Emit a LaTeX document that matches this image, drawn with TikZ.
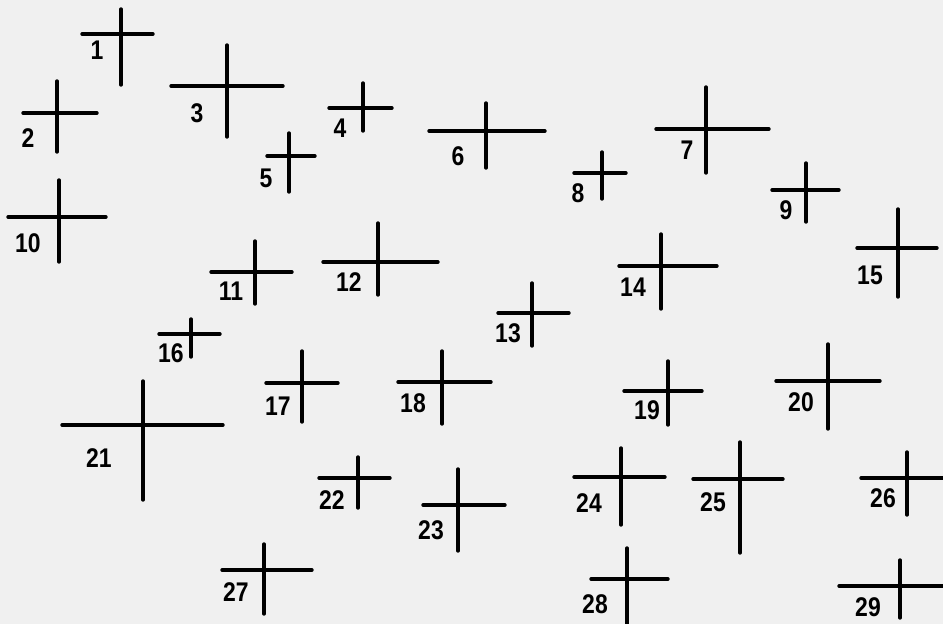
\documentclass[tikz,border=0pt]{standalone}
\usepackage{fontspec}
\setmainfont{Liberation Sans}
\definecolor{paper}{RGB}{240,240,240}
\tikzset{
  bar/.style={line width=3.4pt, line cap=round, black},
  num/.style={font=\bfseries\fontsize{27}{27}\selectfont, inner sep=0pt, black}
}
% #1 name, #2 vx, #3 vtop, #4 vbot, #5 hy, #6 hleft, #7 hright, #8 lx, #9 ly, label
\newcommand{\drawcross}[9]{%
  \draw[bar] (#2,#3) -- (#2,#4);
  \draw[bar] (#6,#5) -- (#7,#5);
  \node[num] (#1) at (#8,#9) {\scalebox{0.85}[1]{#1}};
}
\begin{document}
\begin{tikzpicture}[x=1pt,y=-1pt]
\fill[paper] (0,0) rectangle (943,624);
\useasboundingbox (0,0) rectangle (943,624);
\drawcross{1}{121}{9}{85}{34}{82}{153}{97}{50}
\drawcross{2}{57}{81}{152}{113}{23}{97}{28}{138}
\drawcross{3}{227}{45}{137}{86}{171}{283}{197}{113}
\drawcross{4}{363}{83}{131}{108}{329}{392}{340}{128}
\drawcross{5}{289}{133}{192}{156}{267}{315}{266}{178}
\drawcross{6}{486}{103}{168}{131}{429}{545}{458}{156}
\drawcross{7}{706}{87}{173}{129}{656}{769}{687}{150}
\drawcross{8}{602}{152}{199}{173}{574}{626}{578}{193}
\drawcross{9}{806}{163}{222}{190}{772}{839}{786}{210}
\drawcross{10}{59}{180}{262}{217}{8}{106}{28}{243}
\drawcross{11}{255}{241}{304}{272}{211}{292}{231}{291}
\drawcross{12}{378}{223}{295}{262}{323}{438}{349}{282}
\drawcross{13}{532}{283}{346}{313}{498}{569}{508}{333}
\drawcross{14}{661}{234}{309}{266}{619}{717}{633}{287}
\drawcross{15}{898}{209}{297}{248}{857}{937}{870}{275}
\drawcross{16}{191}{319}{357}{334}{159}{220}{171}{353}
\drawcross{17}{302}{351}{422}{383}{266}{338}{278}{406}
\drawcross{18}{442}{351}{424}{382}{398}{491}{413}{403}
\drawcross{19}{668}{361}{425}{391}{624}{702}{647}{410}
\drawcross{20}{828}{344}{429}{381}{776}{880}{801}{402}
\drawcross{21}{143}{381}{500}{425}{62}{223}{99}{458}
\drawcross{22}{358}{457}{508}{478}{319}{390}{332}{500}
\drawcross{23}{458}{469}{551}{505}{423}{505}{431}{530}
\drawcross{24}{621}{448}{525}{477}{574}{665}{589}{503}
\drawcross{25}{740}{442}{553}{479}{693}{783}{713}{502}
\drawcross{26}{907}{452}{515}{478}{861}{945}{883}{498}
\drawcross{27}{264}{544}{614}{570}{222}{312}{236}{592}
\drawcross{28}{627}{548}{626}{579}{591}{668}{595}{604}
\drawcross{29}{900}{560}{618}{586}{839}{945}{868}{607}
\end{tikzpicture}
\end{document}
